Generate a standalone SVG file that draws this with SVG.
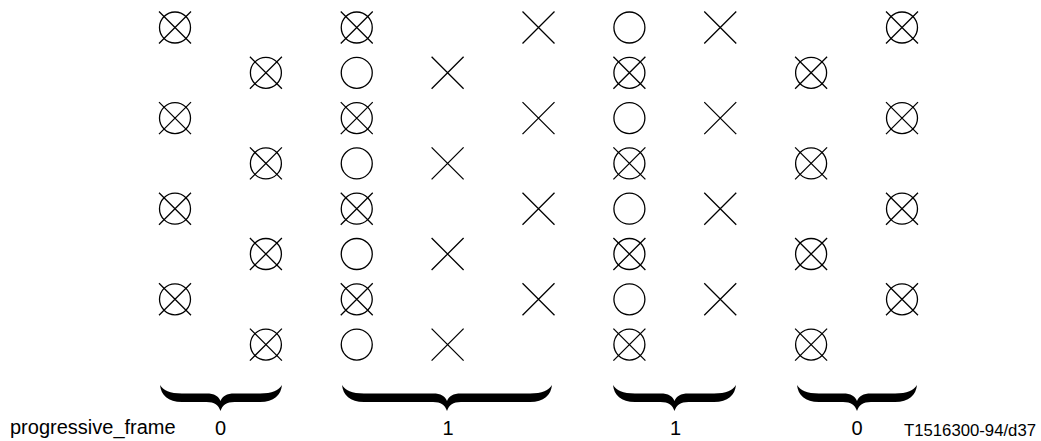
<svg xmlns="http://www.w3.org/2000/svg" xmlns:xlink="http://www.w3.org/1999/xlink" width="1041" height="441" viewBox="0 0 1041 441">
<style>
.s{fill:none;stroke:#000;stroke-width:1.3}
.b{fill:#000;stroke:none}
.t{font-family:"Liberation Sans",Arial,sans-serif;fill:#000}
</style>
<defs>
<g id="ox"><circle class="s" cx="0" cy="0" r="15.5"/><path class="s" d="M-16,-16L16,16M16,-16L-16,16"/></g>
<g id="o"><circle class="s" cx="0" cy="0" r="15.5"/></g>
<g id="x"><path class="s" d="M-16,-16L16,16M16,-16L-16,16"/></g>
</defs>
<rect width="1041" height="441" fill="#fff"/>
<g id="row1">
<use id="r1c0" href="#ox" x="175" y="27.5"/><use id="r1c2" href="#ox" x="356.75" y="27.5"/><use id="r1c4" href="#x" x="538.5" y="27.5"/><use id="r1c5" href="#o" x="629.4" y="27.5"/><use id="r1c6" href="#x" x="720.25" y="27.5"/><use id="r1c8" href="#ox" x="902" y="27.5"/>
</g>
<g id="row2">
<use id="r2c1" href="#ox" x="265.9" y="72.8"/><use id="r2c2" href="#o" x="356.75" y="72.8"/><use id="r2c3" href="#x" x="447.6" y="72.8"/><use id="r2c5" href="#ox" x="629.4" y="72.8"/><use id="r2c7" href="#ox" x="811.1" y="72.8"/>
</g>
<g id="row3">
<use id="r3c0" href="#ox" x="175" y="118.1"/><use id="r3c2" href="#ox" x="356.75" y="118.1"/><use id="r3c4" href="#x" x="538.5" y="118.1"/><use id="r3c5" href="#o" x="629.4" y="118.1"/><use id="r3c6" href="#x" x="720.25" y="118.1"/><use id="r3c8" href="#ox" x="902" y="118.1"/>
</g>
<g id="row4">
<use id="r4c1" href="#ox" x="265.9" y="163.4"/><use id="r4c2" href="#o" x="356.75" y="163.4"/><use id="r4c3" href="#x" x="447.6" y="163.4"/><use id="r4c5" href="#ox" x="629.4" y="163.4"/><use id="r4c7" href="#ox" x="811.1" y="163.4"/>
</g>
<g id="row5">
<use id="r5c0" href="#ox" x="175" y="208.7"/><use id="r5c2" href="#ox" x="356.75" y="208.7"/><use id="r5c4" href="#x" x="538.5" y="208.7"/><use id="r5c5" href="#o" x="629.4" y="208.7"/><use id="r5c6" href="#x" x="720.25" y="208.7"/><use id="r5c8" href="#ox" x="902" y="208.7"/>
</g>
<g id="row6">
<use id="r6c1" href="#ox" x="265.9" y="254"/><use id="r6c2" href="#o" x="356.75" y="254"/><use id="r6c3" href="#x" x="447.6" y="254"/><use id="r6c5" href="#ox" x="629.4" y="254"/><use id="r6c7" href="#ox" x="811.1" y="254"/>
</g>
<g id="row7">
<use id="r7c0" href="#ox" x="175" y="299.3"/><use id="r7c2" href="#ox" x="356.75" y="299.3"/><use id="r7c4" href="#x" x="538.5" y="299.3"/><use id="r7c5" href="#o" x="629.4" y="299.3"/><use id="r7c6" href="#x" x="720.25" y="299.3"/><use id="r7c8" href="#ox" x="902" y="299.3"/>
</g>
<g id="row8">
<use id="r8c1" href="#ox" x="265.9" y="344.6"/><use id="r8c2" href="#o" x="356.75" y="344.6"/><use id="r8c3" href="#x" x="447.6" y="344.6"/><use id="r8c5" href="#ox" x="629.4" y="344.6"/><use id="r8c7" href="#ox" x="811.1" y="344.6"/>
</g>
<g id="connectors"></g>
<g id="braces">
<path class="b" d="M160,385 C161,395 168,402 182,402 L206.5,402 C214.5,402 218.5,405 220.5,411 C222.5,405 226.5,402 234.5,402 L260,402 C274,402 281,395 282,385 C279,390 272,393.5 260,393.5 L234.5,393.5 C226.5,393.5 222.5,396 220.5,401 C218.5,396 214.5,393.5 206.5,393.5 L182,393.5 C170,393.5 163,390 160,385 Z"/>
<path class="b" d="M342,385 C343,395 350,402 364,402 L433,402 C441,402 445,405 447,411 C449,405 453,402 461,402 L530,402 C544,402 551,395 552,385 C549,390 542,393.5 530,393.5 L461,393.5 C453,393.5 449,396 447,401 C445,396 441,393.5 433,393.5 L364,393.5 C352,393.5 345,390 342,385 Z"/>
<path class="b" d="M613,385 C614,395 621,402 635,402 L660.5,402 C668.5,402 672.5,405 674.5,411 C676.5,405 680.5,402 688.5,402 L714,402 C728,402 735,395 736,385 C733,390 726,393.5 714,393.5 L688.5,393.5 C680.5,393.5 676.5,396 674.5,401 C672.5,396 668.5,393.5 660.5,393.5 L635,393.5 C623,393.5 616,390 613,385 Z"/>
<path class="b" d="M797,385 C798,395 805,402 819,402 L843,402 C851,402 855,405 857,411 C859,405 863,402 871,402 L895,402 C909,402 916,395 917,385 C914,390 907,393.5 895,393.5 L871,393.5 C863,393.5 859,396 857,401 C855,396 851,393.5 843,393.5 L819,393.5 C807,393.5 800,390 797,385 Z"/>
</g>
<g id="labels">
<text class="t" x="10" y="434" font-size="20">progressive_frame</text>
<text class="t" x="220.5" y="435" font-size="20" text-anchor="middle">0</text>
<text class="t" x="448" y="435" font-size="20" text-anchor="middle">1</text>
<text class="t" x="675.5" y="435" font-size="20" text-anchor="middle">1</text>
<text class="t" x="857" y="435" font-size="20" text-anchor="middle">0</text>
<text class="t" x="904" y="436" font-size="17" textLength="132" lengthAdjust="spacingAndGlyphs">T1516300-94/d37</text>
</g>
</svg>
